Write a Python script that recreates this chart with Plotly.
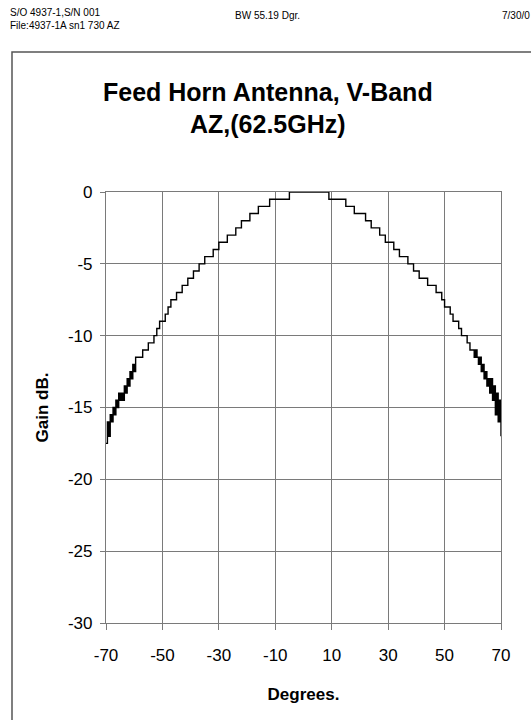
import plotly.graph_objects as go

# ---- data ----
left_deg = [-70, -69.5, -69, -68.5, -68, -67.5, -67, -66.5, -66, -65.5, -65, -64.5,
            -64, -63.5, -63, -62.5, -62, -61.5, -61, -60.5, -60, -59.5]
left_gain = [-17.5, -16.0, -17.0, -15.5, -16.0, -15.0, -15.5, -14.5, -15.0, -14.0, -14.5, -14.0,
             -14.5, -13.5, -14.0, -13.0, -13.5, -12.5, -13.0, -12.0, -12.5, -11.5]

mid_deg = list(range(-59, 60))
mid_gain = [
    -11.5, -11.5, -11.0, -11.0, -10.5, -10.5, -10.0, -9.5, -9.0, -9.0,   # -59..-50
    -8.5, -8.0, -7.5, -7.5, -7.0, -7.0, -6.5, -6.5, -6.0, -6.0,          # -49..-40
    -5.5, -5.5, -5.0, -5.0, -4.5, -4.5, -4.5, -4.0, -4.0, -3.5,          # -39..-30
    -3.5, -3.5, -3.0, -3.0, -3.0, -2.5, -2.5, -2.0, -2.0, -2.0,          # -29..-20
    -1.5, -1.5, -1.5, -1.0, -1.0, -1.0, -1.0, -0.5, -0.5, -0.5,          # -19..-10
    -0.5, -0.5, -0.5, -0.5, 0.0, 0.0, 0.0, 0.0, 0.0, 0.0,                # -9..0
    0.0, 0.0, 0.0, 0.0, 0.0, 0.0, 0.0, 0.0, -0.5, -0.5,                  # 1..10
    -0.5, -0.5, -0.5, -0.5, -1.0, -1.0, -1.0, -1.5, -1.5, -1.5,          # 11..20
    -1.5, -2.0, -2.0, -2.5, -2.5, -2.5, -3.0, -3.0, -3.5, -3.5,          # 21..30
    -3.5, -4.0, -4.0, -4.5, -4.5, -4.5, -5.0, -5.0, -5.5, -5.5,          # 31..40
    -6.0, -6.0, -6.0, -6.5, -6.5, -6.5, -7.0, -7.0, -7.5, -8.0,          # 41..50
    -8.0, -8.5, -9.0, -9.0, -9.5, -10.0, -10.0, -10.5, -11.0,            # 51..59
]

right_deg = [60, 60.5, 61, 61.5, 62, 62.5, 63, 63.5, 64, 64.5, 65, 65.5,
             66, 66.5, 67, 67.5, 68, 68.5, 69, 69.5, 70]
right_gain = [-11.0, -11.5, -11.0, -11.5, -12.0, -11.5, -12.5, -12.0, -13.0, -12.5, -13.5, -13.0,
              -14.0, -13.0, -14.5, -13.5, -15.5, -14.0, -16.0, -14.5, -17.0]

x_ticks = [-70, -50, -30, -10, 10, 30, 50, 70]
y_ticks = [0, -5, -10, -15, -20, -25, -30]

deg = left_deg + mid_deg + right_deg
gain = left_gain + mid_gain + right_gain

FONT = "Liberation Sans, Arial, sans-serif"
GRID = "#7a7a7a"

fig = go.Figure()
fig.add_trace(go.Scatter(
    x=deg, y=gain, mode="lines", line=dict(color="black", width=1.4, shape="hv"),
    cliponaxis=False, showlegend=False, hoverinfo="skip"))

fig.update_layout(
    width=531, height=720,
    margin=dict(l=106, r=30, t=192, b=97),
    paper_bgcolor="white", plot_bgcolor="white",
    font=dict(family=FONT, color="black"),
    xaxis=dict(range=[-70, 70], tickvals=x_ticks, ticktext=[str(v) for v in x_ticks],
               showgrid=True, gridcolor=GRID, gridwidth=1, showline=True, linecolor=GRID,
               linewidth=1.2, mirror=True, ticks="outside", ticklen=6, tickcolor=GRID,
               tickfont=dict(size=17), ticklabelstandoff=10, zeroline=False,
               title=dict(text="<b>Degrees.</b>", font=dict(size=17), standoff=24)),
    yaxis=dict(range=[-30, 0], tickvals=y_ticks, ticktext=[str(v) for v in y_ticks],
               showgrid=True, gridcolor=GRID, gridwidth=1, showline=True, linecolor=GRID,
               linewidth=1.2, mirror=True, ticks="outside", ticklen=5, tickcolor=GRID,
               tickfont=dict(size=17), ticklabelstandoff=4, zeroline=False,
               title=dict(text="<b>Gain dB.</b>", font=dict(size=17), standoff=14)),
)

# outer frame (extends past the right and bottom edges)
fig.add_shape(type="rect", xref="paper", yref="paper",
              x0=(12 - 106) / 395, x1=1.2, y0=-0.4, y1=(623 - 52) / 431,
              line=dict(color="#555555", width=1.5), layer="below")

def ann(text, px, py, size, xanchor="left", bold=False):
    fig.add_annotation(text=f"<b>{text}</b>" if bold else text,
                       xref="paper", yref="paper",
                       x=(px - 106) / 395, y=(623 - py) / 431,
                       xanchor=xanchor, yanchor="middle", showarrow=False,
                       font=dict(size=size, family=FONT, color="black"))

ann("S/O 4937-1,S/N 001", 8, 13, 10)
ann("File:4937-1A sn1 730 AZ", 8, 25, 10)
ann("BW 55.19 Dgr.", 233, 15, 10)
ann("7/30/0", 500, 15, 10)
ann("Feed Horn Antenna, V-Band", 268, 92, 25, xanchor="center", bold=True)
ann("AZ,(62.5GHz)", 268, 124, 25, xanchor="center", bold=True)

fig.write_html("out.html")
